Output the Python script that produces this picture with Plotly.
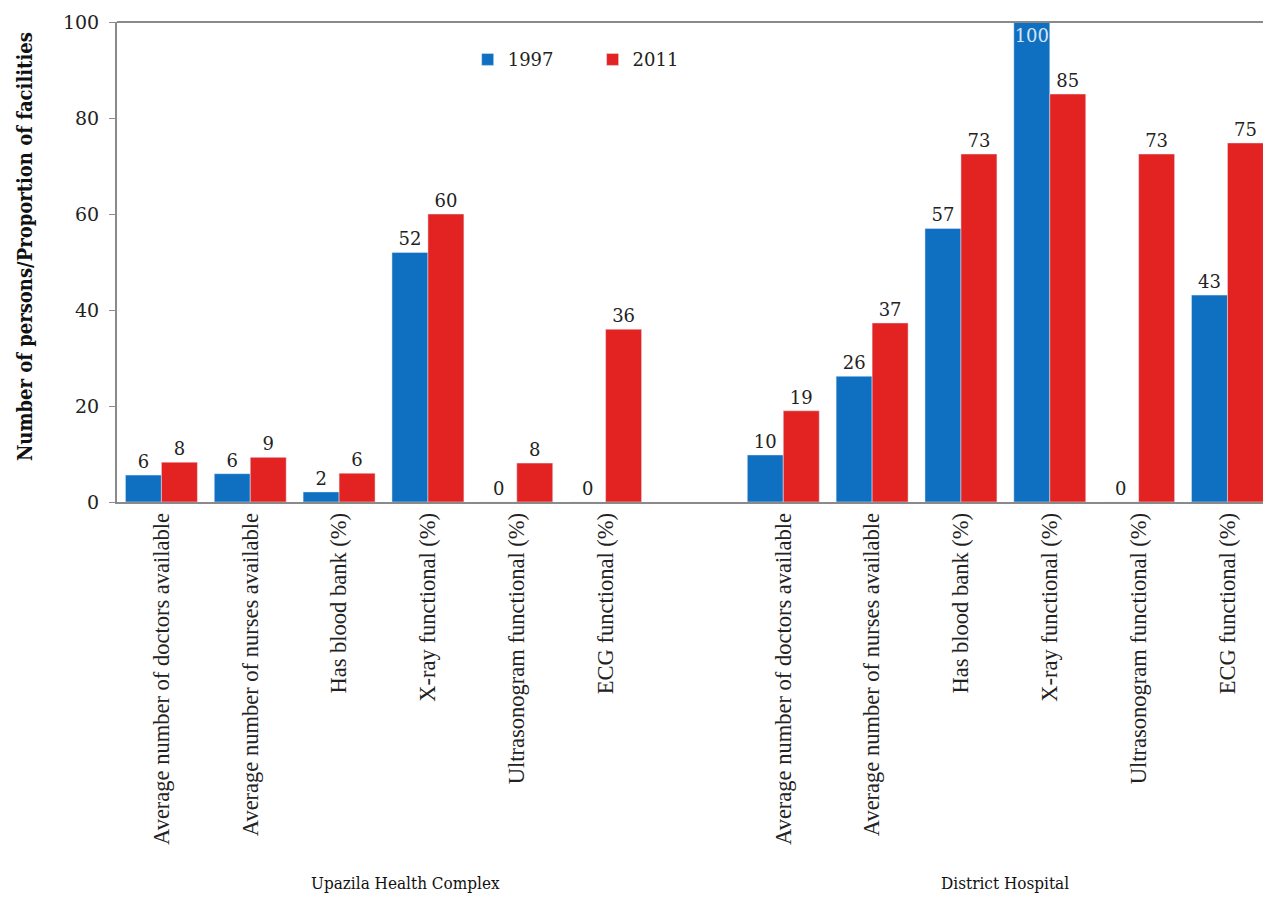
import plotly.graph_objects as go

cats_uhc = ["Average number of doctors available", "Average number of nurses available",
            "Has blood bank (%)", "X-ray functional (%)", "Ultrasonogram functional (%)",
            "ECG functional (%)"]
cats_dh = ["Average number of doctors available", "Average number of nurses available",
           "Has blood bank (%)", "X-ray functional (%)", "Ultrasonogram functional (%)",
           "ECG functional (%)"]
groups = ["Upazila Health Complex", "District Hospital"]
y_title = "Number of persons/Proportion of facilities"

v1997_uhc = [5.6, 5.9, 2.1, 52, 0, 0]
v2011_uhc = [8.3, 9.3, 6.0, 60, 8.1, 36]
v1997_dh = [9.8, 26.2, 57, 100, 0, 43.1]
v2011_dh = [19, 37.3, 72.5, 85, 72.5, 74.8]

lab1997_uhc = ["6", "6", "2", "52", "0", "0"]
lab2011_uhc = ["8", "9", "6", "60", "8", "36"]
lab1997_dh = ["10", "26", "57", "100", "0", "43"]
lab2011_dh = ["19", "37", "73", "85", "73", "75"]

# positions: 6 UHC slots, one empty slot, 6 DH slots
x_uhc = list(range(len(cats_uhc)))
x_dh = [len(cats_uhc) + 1 + i for i in range(len(cats_dh))]
xs = x_uhc + x_dh
ticktext = cats_uhc + cats_dh

y1997 = v1997_uhc + v1997_dh
y2011 = v2011_uhc + v2011_dh
t1997 = lab1997_uhc + lab1997_dh
t2011 = lab2011_uhc + lab2011_dh

BLUE = "#0f6fc0"
RED = "#e32322"
NUM_FONT = "DejaVu Serif"
TXT = "#222"
LBL = 18

pos1997 = ["inside" if v >= 100 else "outside" for v in y1997]

fig = go.Figure()
fig.add_trace(go.Bar(x=xs, y=y1997, name="1997", marker_color=BLUE, legend="legend",
                     text=t1997, textposition=pos1997, insidetextanchor="end",
                     textangle=0, constraintext="none",
                     textfont=dict(family=NUM_FONT, size=LBL, color=TXT),
                     insidetextfont=dict(family=NUM_FONT, size=LBL, color="#d8e4f2"),
                     outsidetextfont=dict(family=NUM_FONT, size=LBL, color=TXT),
                     cliponaxis=False))
fig.add_trace(go.Bar(x=xs, y=y2011, name="2011", marker_color=RED, legend="legend2",
                     text=t2011, textposition="outside", textangle=0,
                     constraintext="none",
                     textfont=dict(family=NUM_FONT, size=LBL, color=TXT),
                     cliponaxis=False))

leg_common = dict(orientation="h", yanchor="top", xanchor="left", y=0.96,
                  font=dict(family=NUM_FONT, size=18, color=TXT),
                  bgcolor="rgba(0,0,0,0)", itemwidth=30)
fig.update_layout(
    width=1263, height=897,
    margin=dict(l=117, r=0, t=22, b=395),
    plot_bgcolor="white", paper_bgcolor="white",
    barmode="group", bargap=0.19, bargroupgap=0,
    font=dict(family="Liberation Serif", color=TXT),
    legend=dict(x=0.306, **leg_common),
    legend2=dict(x=0.415, **leg_common),
    showlegend=True,
)
fig.update_yaxes(range=[0, 100], tickvals=[0, 20, 40, 60, 80, 100],
                 showgrid=False, zeroline=False, showline=True, linecolor="#8a8a8a",
                 linewidth=2, ticks="outside", ticklen=6, tickcolor="#8a8a8a",
                 ticklabelstandoff=6,
                 tickfont=dict(family=NUM_FONT, size=19, color=TXT))
fig.update_xaxes(range=[-0.5, 12.4], tickvals=xs, ticktext=ticktext, tickangle=-90,
                 showgrid=False, zeroline=False, showline=True, linecolor="#8a8a8a",
                 linewidth=2, ticks="", mirror=False,
                 tickfont=dict(family="Liberation Serif", size=22.5, color=TXT))
# top border line
fig.add_shape(type="line", xref="paper", yref="paper", x0=0, x1=1, y0=1, y1=1,
              line=dict(color="#8a8a8a", width=2))

# y-axis title
fig.add_annotation(x=0, y=0.531, xref="paper", yref="paper", xshift=-92,
                   xanchor="center", yanchor="middle", textangle=-90,
                   text="<b>" + y_title + "</b>", showarrow=False,
                   font=dict(family="DejaVu Serif Condensed", size=20, color="#111"))

fig.add_annotation(x=(x_uhc[0] + x_uhc[-1]) / 2 + 0.25, y=0, xref="x", yref="paper",
                   yshift=-393, text=groups[0], showarrow=False,
                   yanchor="bottom",
                   font=dict(family="DejaVu Serif Condensed", size=17, color="#111"))
fig.add_annotation(x=(x_dh[0] + x_dh[-1]) / 2, y=0, xref="x", yref="paper",
                   yshift=-393, text=groups[1], showarrow=False,
                   yanchor="bottom",
                   font=dict(family="DejaVu Serif Condensed", size=17, color="#111"))

fig.write_html("out.html", config={"displayModeBar": False},
               post_script="document.body.style.margin='0px';document.body.style.overflow='hidden';")
